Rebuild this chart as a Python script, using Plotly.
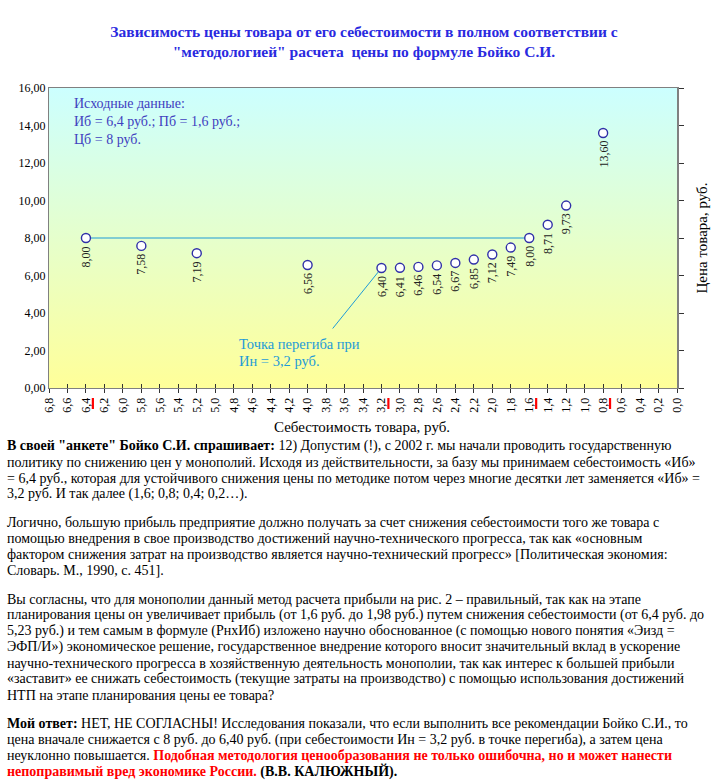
import base64
import plotly.graph_objects as go

# ---------------- data ----------------
cost = [6.4, 5.8, 5.2, 4.0, 3.2, 3.0, 2.8, 2.6, 2.4, 2.2, 2.0, 1.8, 1.6, 1.4, 1.2, 0.8]
price = [8.00, 7.58, 7.19, 6.56, 6.40, 6.41, 6.46, 6.54, 6.67, 6.85, 7.12, 7.49, 8.00, 8.71, 9.73, 13.60]
base_line_cost = [6.4, 1.6]
base_line_price = [8.00, 8.00]
base_costs = [6.4, 3.2, 1.6, 0.8]          # red marks under the axis
inflection_cost = 3.2
inflection_price = 6.40
x_ticks = [round(6.8 - 0.2 * i, 1) for i in range(35)]
y_ticks = [0, 2, 4, 6, 8, 10, 12, 14, 16]

title_text = ("Зависимость цены товара от его себестоимости в полном соответствии с<br>"
              "\"методологией\" расчета  цены по формуле Бойко С.И.")
x_title = "Себестоимость товара, руб."
y_title = "Цена товара, руб."
source_note = ["Исходные данные:", "Иб = 6,4 руб.; Пб = 1,6 руб.;", "Цб = 8 руб."]
inflection_note = ["Точка перегиба при", "Ин = 3,2 руб."]

paragraphs = [
    ["<b>В своей \"анкете\" Бойко С.И. спрашивает:</b> 12) Допустим (!), с 2002 г. мы начали проводить государственную",
     "политику по снижению цен у монополий. Исходя из действительности, за базу мы принимаем себестоимость «Иб»",
     "= 6,4 руб., которая для устойчивого снижения цены по методике потом через многие десятки лет заменяется «Иб» =",
     "3,2 руб. И так далее (1,6; 0,8; 0,4; 0,2…)."],
    ["Логично, большую прибыль предприятие должно получать за счет снижения себестоимости того же товара с",
     "помощью внедрения в свое производство достижений научно-технического прогресса, так как «основным",
     "фактором снижения затрат на производство является научно-технический прогресс» [Политическая экономия:",
     "Словарь. М., 1990, с. 451]."],
    ["Вы согласны, что для монополии данный метод расчета прибыли на рис. 2 – правильный, так как на этапе",
     "планирования цены он увеличивает прибыль (от 1,6 руб. до 1,98 руб.) путем снижения себестоимости (от 6,4 руб. до",
     "5,23 руб.) и тем самым в формуле (РнхИб) изложено научно обоснованное (с помощью нового понятия «Эизд =",
     "ЭФП/И») экономическое решение, государственное внедрение которого вносит значительный вклад в ускорение",
     "научно-технического прогресса в хозяйственную деятельность монополии, так как интерес к большей прибыли",
     "«заставит» ее снижать себестоимость (текущие затраты на производство) с помощью использования достижений",
     "НТП на этапе планирования цены ее товара?"],
    ["<b>Мой ответ:</b> НЕТ, НЕ СОГЛАСНЫ! Исследования показали, что если выполнить все рекомендации Бойко С.И., то",
     "цена вначале снижается с 8 руб. до 6,40 руб. (при себестоимости Ин = 3,2 руб. в точке перегиба), а затем цена",
     "неуклонно повышается. <b><span style='color:#ff0000'>Подобная методология ценообразования не только ошибочна, но и может нанести</span></b>",
     "<b><span style='color:#ff0000'>непоправимый вред экономике России.</span> (В.В. КАЛЮЖНЫЙ).</b>"],
]

# ---------------- layout geometry ----------------
W, H = 728, 780
px_l, px_r, px_t, px_b = 49, 677, 88, 388
dx0, dx1 = px_l / W, px_r / W
dy0, dy1 = 1 - px_b / H, 1 - px_t / H
FONT = "Liberation Serif"

fig = go.Figure()

fig.add_trace(go.Scatter(
    x=base_line_cost, y=base_line_price, mode="lines",
    line=dict(color="#1e9bd7", width=1.2), hoverinfo="skip", showlegend=False))
fig.add_trace(go.Scatter(
    x=cost, y=price, mode="markers",
    marker=dict(symbol="circle", size=9, color="white",
                line=dict(color="#3030a8", width=1.4)),
    showlegend=False, cliponaxis=False))
fig.add_trace(go.Scatter(x=[6.8], y=[0], yaxis="y2", mode="markers",
                         marker=dict(opacity=0), hoverinfo="skip", showlegend=False))
fig.add_trace(go.Scatter(x=[6.8], y=[0], xaxis="x2", mode="markers",
                         marker=dict(opacity=0), hoverinfo="skip", showlegend=False))

annotations = []
for c, p in zip(cost, price):
    lab = f"{p:.2f}".replace(".", ",")
    wlen = 6.0 * (len(lab) - 1) + 3.0
    annotations.append(dict(
        x=c, y=p, xref="x", yref="y", text=lab, showarrow=False, textangle=-90,
        xanchor="center", yanchor="middle", yshift=-(8 + wlen / 2),
        font=dict(family=FONT, size=12, color="#222222")))

for i, t in enumerate(source_note):
    annotations.append(dict(
        x=72 / W, y=1 - (104 + 17.5 * i) / H, xref="paper", yref="paper", text=t,
        showarrow=False, xanchor="left", yanchor="middle", align="left",
        font=dict(family=FONT, size=14, color="#4040c0")))
for i, t in enumerate(inflection_note):
    annotations.append(dict(
        x=237 / W, y=1 - (344 + 16.5 * i) / H, xref="paper", yref="paper", text=t,
        showarrow=False, xanchor="left", yanchor="middle", align="left",
        font=dict(family=FONT, size=14.5, color="#1e9bd7")))
annotations.append(dict(
    x=inflection_cost, y=inflection_price, xref="x", yref="y", text="",
    showarrow=True, arrowhead=0, arrowwidth=1, arrowcolor="#1e9bd7",
    ax=-50, ay=62, axref="pixel", ayref="pixel", standoff=5))

# x-axis title, placed like the text lines
annotations.append(dict(
    x=272 / W, y=1 - 427 / H, xref="paper", yref="paper", text=x_title,
    showarrow=False, xanchor="left", yanchor="middle", align="left",
    font=dict(family=FONT, size=15, color="black")))

# text paragraphs below chart
L, G = 16.0, 12.5
yy = 446.0
for pi, para in enumerate(paragraphs):
    for li, line in enumerate(para):
        annotations.append(dict(
            x=5 / W, y=1 - yy / H, xref="paper", yref="paper", text=line,
            showarrow=False, xanchor="left", yanchor="middle", align="left",
            font=dict(family=FONT, size=14, color="black")))
        yy += L
    yy += G

shapes = []
for v in base_costs:
    shapes.append(dict(type="line", xref="x", yref="paper",
                       x0=v - 0.075, x1=v - 0.075,
                       y0=1 - 398 / H, y1=1 - 409 / H,
                       line=dict(color="#ff0000", width=2.2)))

svg = ('<svg xmlns="http://www.w3.org/2000/svg" width="100" height="100" preserveAspectRatio="none">'
       '<defs><linearGradient id="g" x1="0" y1="0" x2="0" y2="1">'
       '<stop offset="0" stop-color="#ccffff"/><stop offset="1" stop-color="#ffff99"/>'
       '</linearGradient></defs><rect width="100" height="100" fill="url(#g)"/></svg>')
src = "data:image/svg+xml;base64," + base64.b64encode(svg.encode()).decode()

fig.update_layout(
    width=W, height=H, margin=dict(l=0, r=0, t=0, b=0),
    paper_bgcolor="white", plot_bgcolor="rgba(0,0,0,0)",
    separators=", ",
    title=dict(text=f"<b>{title_text}</b>", x=0.5, xanchor="center",
               y=1 - 37 / H, yanchor="middle",
               font=dict(family=FONT, size=15.5, color="#2a2ae0")),
    images=[dict(source=src, xref="paper", yref="paper", x=dx0, y=dy1,
                 sizex=dx1 - dx0, sizey=dy1 - dy0, sizing="stretch",
                 xanchor="left", yanchor="top", layer="below")],
    xaxis=dict(domain=[dx0, dx1], range=[6.8, 0], tickvals=x_ticks,
               tickformat=".1f", tickangle=-90, ticks="outside", ticklen=4,
               tickcolor="#333333", showline=True, linecolor="#808080", linewidth=1,
               mirror=True, showgrid=False, zeroline=False,
               tickfont=dict(family=FONT, size=12, color="black"),
               automargin=False),
    xaxis2=dict(domain=[dx0, dx1], range=[6.8, 0], overlaying="x", side="bottom",
                tickvals=x_ticks, ticks="inside", ticklen=4, tickcolor="#333333",
                showticklabels=False, showgrid=False, zeroline=False, showline=False,
                anchor="y"),
    yaxis=dict(domain=[dy0, dy1], range=[0, 16], tickvals=y_ticks, tickformat=".2f",
               ticks="", showline=True, linecolor="#808080", linewidth=1,
               showgrid=False, zeroline=False,
               tickfont=dict(family=FONT, size=12, color="black"), automargin=False),
    yaxis2=dict(domain=[dy0, dy1], range=[0, 16], tickvals=y_ticks, overlaying="y",
                side="right", ticks="outside", ticklen=5, tickcolor="#333333",
                showticklabels=False, showline=True, linecolor="#808080", linewidth=1.5,
                showgrid=False, zeroline=False, anchor="x",
                title=dict(text=y_title, standoff=14,
                           font=dict(family=FONT, size=15, color="black")),
                automargin=False),
    annotations=annotations, shapes=shapes,
)

fig.write_html("out.html", config={"displayModeBar": False},
               post_script="document.body.style.margin='0';")
